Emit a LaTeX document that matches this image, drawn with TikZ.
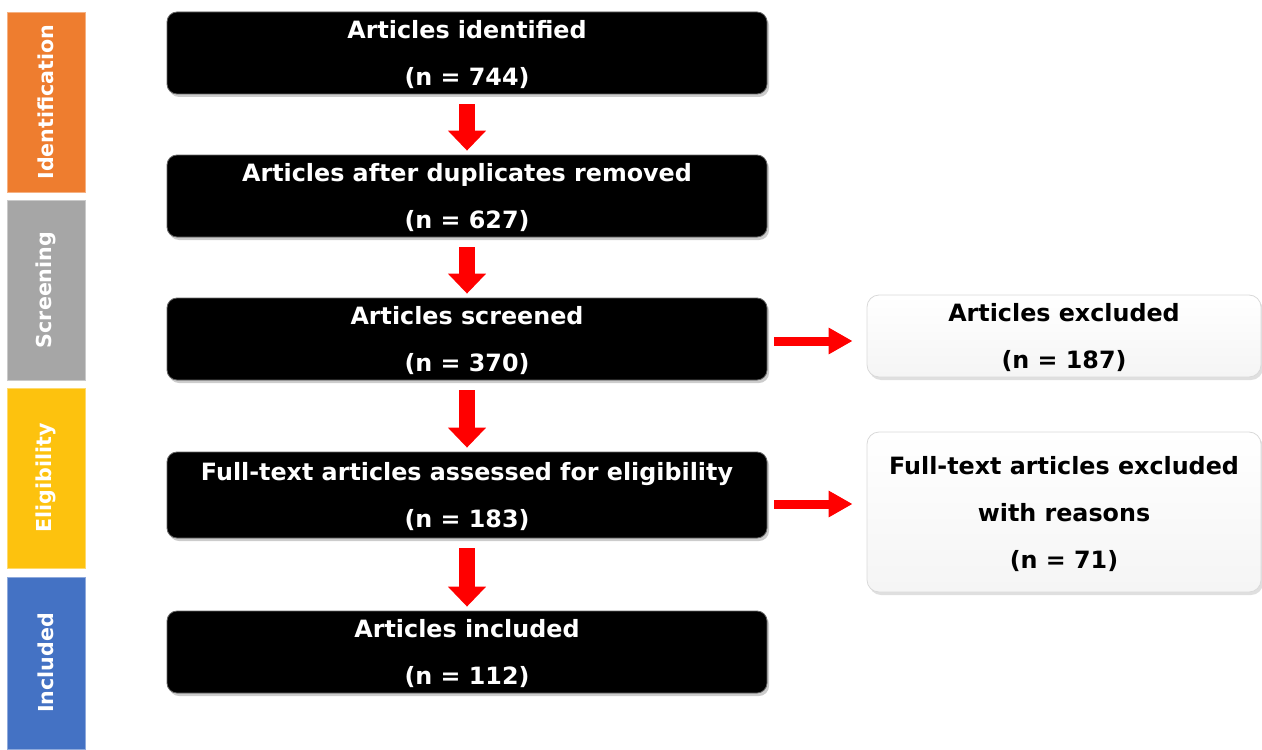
\documentclass[tikz,border=0pt]{standalone}
\usepackage{fontspec}
\setmainfont{DejaVu Sans}
\usetikzlibrary{arrows.meta,shadows}

\definecolor{idorange}{HTML}{EE7D2F}
\definecolor{scrgray}{HTML}{A6A6A6}
\definecolor{eliyellow}{HTML}{FDC20E}
\definecolor{incblue}{HTML}{4472C4}

\begin{document}
\begin{tikzpicture}[
    x=0.5pt, y=-0.5pt,
    every node/.style={font=\bfseries\fontsize{11.9}{23.5}\selectfont},
    stage/.style={
        draw=black!60, rounded corners=5pt,
        minimum width=300pt, minimum height=41pt, text depth=0pt,
        inner sep=0pt, align=center, fill=black, text=white,
        drop shadow={opacity=0.4, shadow xshift=1pt, shadow yshift=-1.5pt}
    },
    excl/.style={
        draw=black!15, rounded corners=6pt, text depth=0pt,
        minimum width=197pt, inner sep=0pt, align=center,
        top color=white, bottom color=black!4, text=black,
        drop shadow={opacity=0.25, shadow xshift=1pt, shadow yshift=-1.5pt}
    },
    phase/.style={
        minimum width=90pt, minimum height=39pt, inner sep=0pt,
        text=white, rotate=90, font=\bfseries\fontsize{10.3}{12}\selectfont
    },
    down/.style={
        red, line width=8pt, -{Triangle[width=18.5pt, length=10pt]},
        shorten <=5pt, shorten >=2pt
    },
    side/.style={
        red, line width=4.5pt, -{Triangle[width=12.5pt, length=12pt]},
        shorten <=3.5pt, shorten >=7pt
    }
]
\useasboundingbox (0,0) rectangle (1262,749);

% ----------------------------------------------------------
% Phases on the left
% ----------------------------------------------------------
\node[phase, fill=idorange, draw=idorange!60!white] (pid) at (46,102) {Identification};
\node[phase, fill=scrgray, draw=scrgray!60!white] (pscr) at (46,290) {Screening};
\node[phase, fill=eliyellow, draw=eliyellow!60!white] (pel) at (46,478) {Eligibility};
\node[phase, fill=incblue, draw=incblue!60!white, minimum width=86pt] (pinc) at (46,663) {Included};

% ----------------------------------------------------------
% Main column
% ----------------------------------------------------------
\node[stage] (b1) at (467,53)  {Articles identified\\(n = 744)};
\node[stage] (b2) at (467,196) {Articles after duplicates removed\\(n = 627)};
\node[stage] (b3) at (467,339) {Articles screened\\(n = 370)};
\node[stage, minimum height=43pt] (b4) at (467,495) {Full-text articles assessed for eligibility\\(n = 183)};
\node[stage] (b5) at (467,652) {Articles included\\(n = 112)};

% ----------------------------------------------------------
% Exclusions on the right
% ----------------------------------------------------------
\node[excl, minimum height=41pt] (ex1) at (1064,336) {Articles excluded\\(n = 187)};
\node[excl, minimum height=80pt] (ex2) at (1064,512) {Full-text articles excluded\\with reasons\\(n = 71)};

% ----------------------------------------------------------
% Arrows
% ----------------------------------------------------------
\draw[down] (b1.south) -- (b2.north);
\draw[down] (b2.south) -- (b3.north);
\draw[down] (b3.south) -- (b4.north);
\draw[down] (b4.south) -- (b5.north);

\coordinate (a3) at ([yshift=-1pt]b3.east);
\coordinate (a4) at ([yshift=-4.5pt]b4.east);
\draw[side] (a3) -- (a3 -| ex1.west);
\draw[side] (a4) -- (a4 -| ex2.west);

\end{tikzpicture}
\end{document}
